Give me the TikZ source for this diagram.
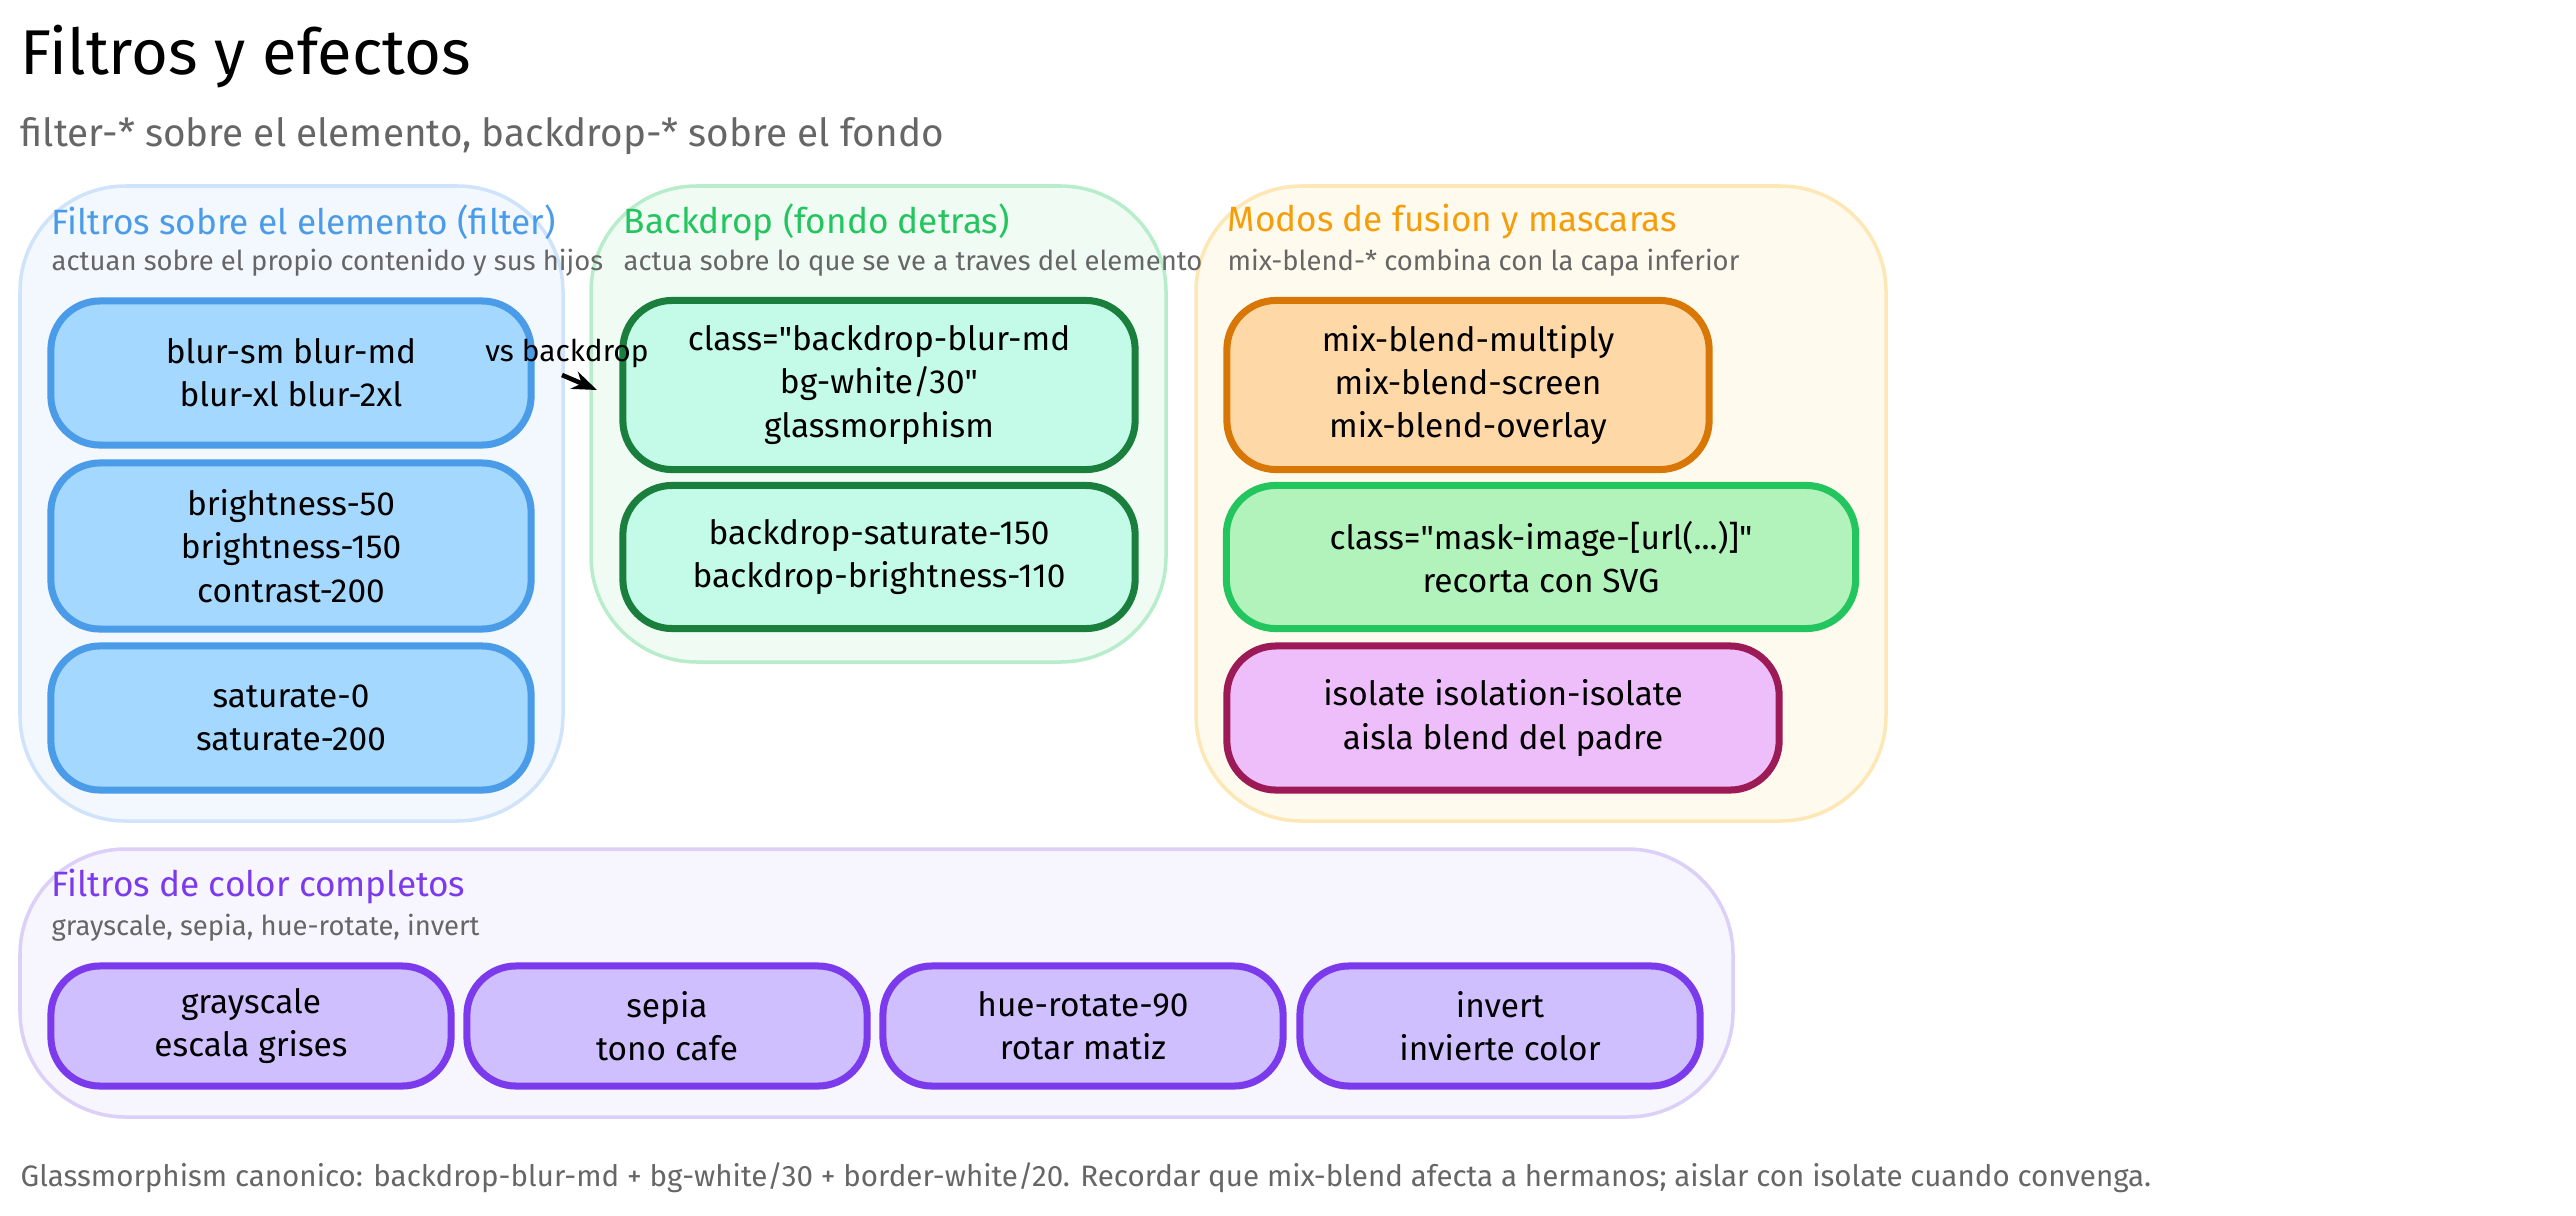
\documentclass[tikz,border=0pt]{standalone}
\usepackage{fontspec}
\setmainfont{Fira Sans}
\usetikzlibrary{positioning, fit, arrows.meta}
\definecolor{blueTxt}{HTML}{4A9CE8}
\definecolor{greenTxt}{HTML}{22C55E}
\definecolor{orangeTxt}{HTML}{F59E0B}
\definecolor{purpleTxt}{HTML}{7C3AED}
\definecolor{grayTxt}{HTML}{666666}
\definecolor{blueFill}{HTML}{F3F7FE}\definecolor{blueLine}{HTML}{CFE3FB}
\definecolor{greenFill}{HTML}{F0FBF4}\definecolor{greenLine}{HTML}{B8EDCB}
\definecolor{orangeFill}{HTML}{FFFAEE}\definecolor{orangeLine}{HTML}{FDE7B5}
\definecolor{violetFill}{HTML}{F7F5FD}\definecolor{violetLine}{HTML}{DCCFF8}
\definecolor{blueBox}{HTML}{A5D8FF}
\definecolor{mintBox}{HTML}{C3FAE8}\definecolor{mintLine}{HTML}{1A7F3C}
\definecolor{orangeBox}{HTML}{FFD8A8}\definecolor{orangeEdge}{HTML}{D97706}
\definecolor{greenBox}{HTML}{B2F2BB}
\definecolor{pinkBox}{HTML}{EEBEFA}\definecolor{pinkLine}{HTML}{9C1A55}
\definecolor{violetBox}{HTML}{D0BFFF}
\tikzset{
    group/.style = {rectangle, draw, rounded corners=30pt, line width=1pt, inner sep=0pt},
    box/.style = {rectangle, draw, rounded corners=14pt, line width=2pt, inner sep=0pt, align=center, font=\fontsize{9.5}{12.3}\selectfont},
    gtitle/.style = {anchor=west, inner sep=0pt, font=\fontsize{10}{12}\selectfont},
    gsub/.style = {anchor=west, inner sep=0pt, text=grayTxt, font=\fontsize{7.8}{9}\selectfont}
}

\begin{document}
\begin{tikzpicture}[x=0.01cm, y=-0.01cm]
    \useasboundingbox (0,0) rectangle (2576,1215);

    % --- HEADER ---
    \node [anchor=west, inner sep=0pt, font=\fontsize{18}{21}\selectfont] (title) at (20,57) {Filtros y efectos};
    \node [anchor=west, inner sep=0pt, text=grayTxt, font=\fontsize{11}{13}\selectfont] (subtitle) at (20,136) {filter-* sobre el elemento, backdrop-* sobre el fondo};

    % --- GROUPS ---
    \node [group, fill=blueFill, draw=blueLine, fit={(20,186)(563,821)}] (gfilter) {};
    \node [group, fill=greenFill, draw=greenLine, fit={(591,186)(1166,662)}] (gbackdrop) {};
    \node [group, fill=orangeFill, draw=orangeLine, fit={(1196,186)(1886,821)}] (gblend) {};
    \node [group, fill=violetFill, draw=violetLine, fit={(20,849)(1733,1117)}] (gcolor) {};

    \node [gtitle, text=blueTxt] (tfilter) at (51,222) {Filtros sobre el elemento (filter)};
    \node [gsub] (sfilter) at (51,263) {actuan sobre el propio contenido y sus hijos};
    \node [gtitle, text=greenTxt] (tbackdrop) at (623,222) {Backdrop (fondo detras)};
    \node [gsub] (sbackdrop) at (623,263) {actua sobre lo que se ve a traves del elemento};
    \node [gtitle, text=orangeTxt] (tblend) at (1227,222) {Modos de fusion y mascaras};
    \node [gsub] (sblend) at (1227,263) {mix-blend-* combina con la capa inferior};
    \node [gtitle, text=purpleTxt] (tcolor) at (51,887) {Filtros de color completos};
    \node [gsub] (scolor) at (51,928) {grayscale, sepia, hue-rotate, invert};

    % --- BOXES ---
    \node [box, fill=blueBox, draw=blueTxt, minimum width=4.8cm, minimum height=1.44cm] (blur) at (291,373) {blur-sm blur-md\\blur-xl blur-2xl};
    \node [box, fill=blueBox, draw=blueTxt, minimum width=4.8cm, minimum height=1.66cm] (bright) at (291,546) {brightness-50\\brightness-150\\contrast-200};
    \node [box, fill=blueBox, draw=blueTxt, minimum width=4.8cm, minimum height=1.44cm] (satur) at (291,718) {saturate-0\\saturate-200};

    \node [box, fill=mintBox, draw=mintLine, minimum width=5.12cm, minimum height=1.69cm] (glass) at (879,385) {class=\textquotedbl backdrop-blur-md\\bg-white/30\textquotedbl\\glassmorphism};
    \node [box, fill=mintBox, draw=mintLine, minimum width=5.12cm, minimum height=1.43cm] (bdsat) at (879,557) {backdrop-saturate-150\\backdrop-brightness-110};

    \node [box, fill=orangeBox, draw=orangeEdge, minimum width=4.82cm, minimum height=1.69cm] (mix) at (1468,385) {mix-blend-multiply\\mix-blend-screen\\mix-blend-overlay};
    \node [box, fill=greenBox, draw=greenTxt, minimum width=6.29cm, minimum height=1.43cm] (mask) at (1541,557) {class=\textquotedbl mask-image-[url(...)]\textquotedbl\\recorta con SVG};
    \node [box, fill=pinkBox, draw=pinkLine, minimum width=5.52cm, minimum height=1.44cm] (iso) at (1503,718) {isolate isolation-isolate\\aisla blend del padre};

    \node [box, fill=violetBox, draw=purpleTxt, minimum width=4cm, minimum height=1.2cm] (gray) at (251,1026) {grayscale\\escala grises};
    \node [box, fill=violetBox, draw=purpleTxt, minimum width=4cm, minimum height=1.2cm] (sepia) at (667,1026) {sepia\\tono cafe};
    \node [box, fill=violetBox, draw=purpleTxt, minimum width=4cm, minimum height=1.2cm] (hue) at (1083,1026) {hue-rotate-90\\rotar matiz};
    \node [box, fill=violetBox, draw=purpleTxt, minimum width=4cm, minimum height=1.2cm] (invert) at (1500,1026) {invert\\invierte color};

    % --- PATHS ---
    \coordinate (vsstart) at (562,375);
    \coordinate (vsend) at (597,390);
    \node [inner sep=0pt, font=\fontsize{8.5}{10}\selectfont] (vslabel) at (567,353) {vs backdrop};
    \draw [-{Stealth[length=7pt]}, line width=1.3pt] (vsstart) -- (vsend);

    % --- FOOTER ---
    \node [anchor=west, inner sep=0pt, text=grayTxt, font=\fontsize{8.4}{10}\selectfont] (note) at (20,1178) {Glassmorphism canonico: backdrop-blur-md + bg-white/30 + border-white/20. Recordar que mix-blend afecta a hermanos; aislar con isolate cuando convenga.};
\end{tikzpicture}
\end{document}
